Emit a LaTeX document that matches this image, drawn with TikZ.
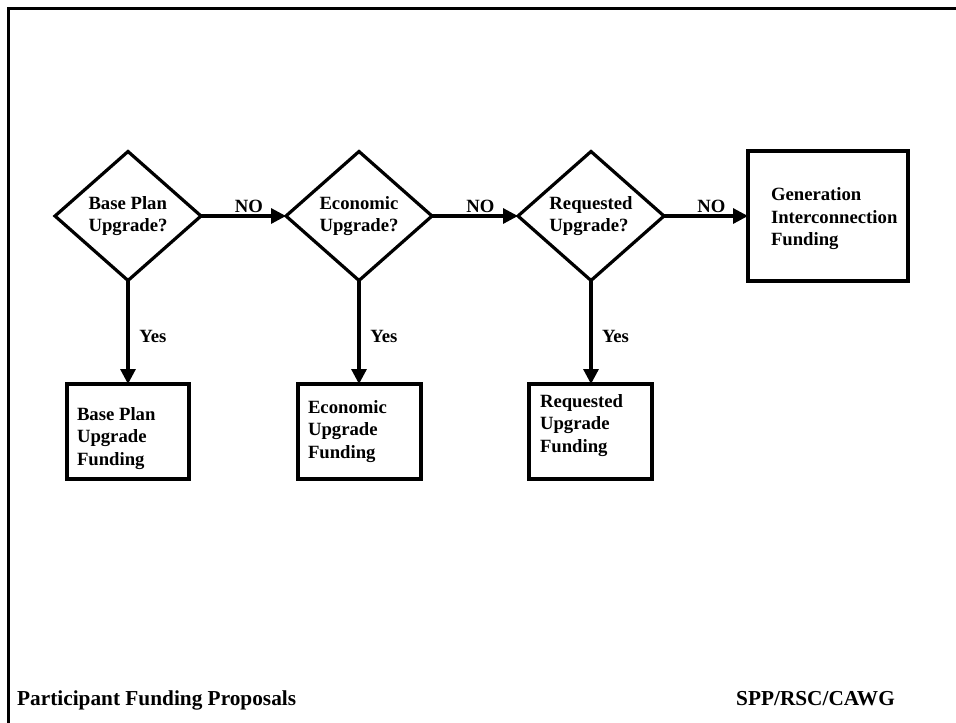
\documentclass[tikz,border=0pt]{standalone}
\usepackage{fontspec}
\setmainfont{Liberation Serif}
\usetikzlibrary{shapes.geometric,arrows.meta}
\begin{document}
\begin{tikzpicture}[x=1pt,y=-1pt,
  dec/.style={diamond, draw, line width=3.2pt, minimum width=146pt, minimum height=129pt, inner sep=0pt, outer sep=0pt, align=left, font=\bfseries\fontsize{18.7}{21.5}\selectfont},
  fbox/.style={rectangle, draw, line width=3.2pt, inner sep=0pt, outer sep=0pt},
  txt/.style={inner sep=0pt, outer sep=0pt, align=left, anchor=north west, font=\bfseries\fontsize{18.7}{22.5}\selectfont},
  lbl/.style={inner sep=0pt, anchor=base, font=\bfseries\fontsize{18.7}{22}\selectfont},
  arr/.style={line width=3.2pt, -{Triangle[length=15pt,width=15pt]}},
  foot/.style={inner sep=0pt, font=\bfseries\fontsize{21.3}{25}\selectfont},
  frame/.style={line width=3pt}
]
\useasboundingbox (0,0) rectangle (956,723);
\fill[white] (0,0) rectangle (956,723);
\coordinate (fa) at (8.6,723);
\coordinate (fb) at (8.6,8.7);
\coordinate (fc) at (956,8.7);
\draw[frame] (fa) -- (fb) -- (fc);

\node[dec] (d1) at (128,216) {Base Plan\\Upgrade?};
\node[dec] (d2) at (359,216) {Economic\\Upgrade?};
\node[dec] (d3) at (591,216) {Requested\\Upgrade?};
\node[fbox, minimum width=160pt, minimum height=130pt] (g) at (828,216) {};
\node[fbox, minimum width=122pt, minimum height=95pt] (b1) at (128,431.5) {};
\node[fbox, minimum width=123pt, minimum height=95pt] (b2) at (359.5,431.5) {};
\node[fbox, minimum width=123pt, minimum height=95pt] (b3) at (590.5,431.5) {};

\node[txt] (tg) at (771,188) {Generation\\Interconnection\\Funding};
\node[txt] (t1) at (77,407.4) {Base Plan\\Upgrade\\Funding};
\node[txt] (t2) at (308,400.2) {Economic\\Upgrade\\Funding};
\node[txt] (t3) at (540,394.2) {Requested\\Upgrade\\Funding};

\draw[arr] (d1.east) -- (d2.west);
\draw[arr] (d2.east) -- (d3.west);
\draw[arr] (d3.east) -- (g.west);
\draw[arr] (d1.south) -- (d1.south |- b1.north);
\draw[arr] (d2.south) -- (d2.south |- b2.north);
\draw[arr] (d3.south) -- (d3.south |- b3.north);

\node[lbl] (n1) at (249,212) {NO};
\node[lbl] (n2) at (480.5,212) {NO};
\node[lbl] (n3) at (711.5,212) {NO};
\node[lbl] (y1) at (153,342) {Yes};
\node[lbl] (y2) at (384,342) {Yes};
\node[lbl] (y3) at (615.5,342) {Yes};

\node[foot, anchor=base west] (f1) at (17,705) {Participant Funding Proposals};
\node[foot, anchor=base east] (f2) at (895,705) {SPP/RSC/CAWG};
\end{tikzpicture}
\end{document}
